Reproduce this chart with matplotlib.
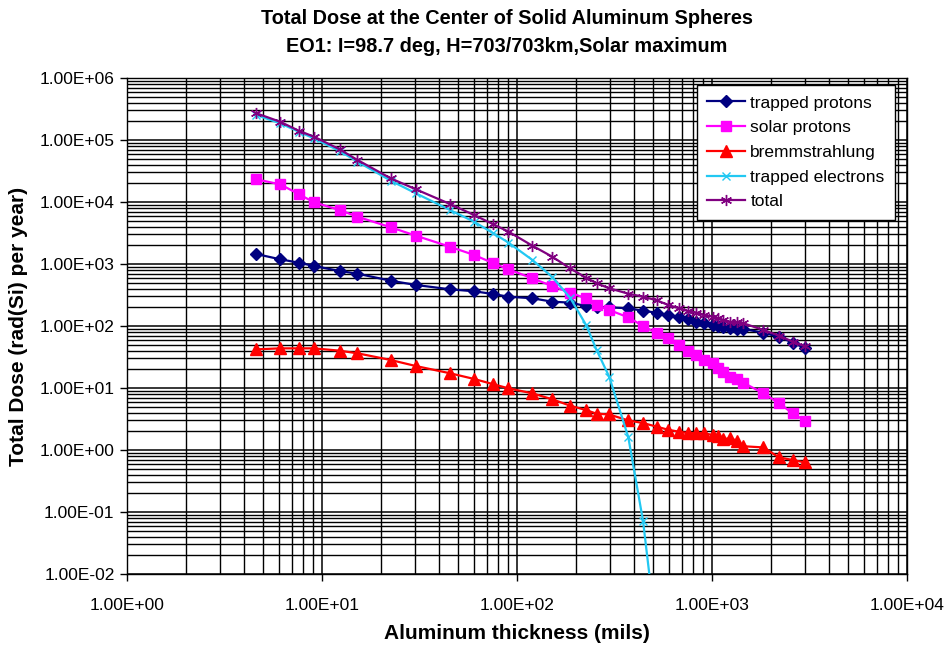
import matplotlib
matplotlib.use("Agg")
import matplotlib.pyplot as plt
from matplotlib.ticker import LogLocator, FuncFormatter, NullFormatter

plt.rcParams['font.family'] = ['Liberation Sans', 'DejaVu Sans']

# Aluminum thickness (mils)
thickness = [4.6, 6.1, 7.6, 9.1, 12.3, 15.2, 22.5, 30.3, 45.3, 60.2, 75.6, 90.2,
             120, 151, 187, 226, 256, 297, 372, 443, 520, 597, 678, 749, 828, 910,
             1006, 1073, 1143, 1237, 1351, 1447, 1834, 2206, 2589, 3000]

trapped_protons = [1449, 1191, 1050, 929, 771, 698, 538, 459, 391, 363, 328, 297,
                   280, 247, 238, 210, 204, 200, 193, 176, 164, 150, 141, 128, 117, 111,
                   104, 100, 98, 94, 89.5, 89.5, 78, 67, 54, 44]

solar_protons = [23200, 19300, 13400, 9880, 7430, 5790, 3910, 2860, 1900, 1400, 1030, 822,
                 588, 442, 344, 280, 218, 181, 138, 100, 76, 63, 49, 40, 34, 28,
                 25, 21, 18.3, 15.2, 13.8, 12.2, 8.2, 5.7, 3.9, 2.97]

bremsstrahlung = [42, 43.6, 43.6, 43.6, 40, 36.3, 28.3, 22.6, 17.3, 14, 11.5, 9.9,
                  8.2, 6.6, 5.2, 4.4, 3.85, 3.74, 3.0, 2.72, 2.38, 2.12, 1.97, 1.88, 1.88, 1.86,
                  1.75, 1.68, 1.49, 1.55, 1.40, 1.15, 1.10, 0.76, 0.69, 0.63]

trapped_electrons = [253000, 186000, 136000, 106000, 66500, 44700, 22100, 13800, 7430, 4810,
                     3130, 2220, 1160, 624, 288, 104, 41, 15.2, 1.62, 0.0716, 0.001]

total = [270000, 197000, 141000, 113000, 70800, 47600, 24100, 16000, 9290, 6170, 4370, 3340,
         1970, 1320, 853, 601, 489, 406, 332, 297, 260, 218, 193, 175, 165, 150,
         141, 133, 125, 117, 114, 111, 86, 70, 56, 47]

fig = plt.figure(figsize=(9.49, 6.46), dpi=100)
ax = fig.add_axes([127 / 949, 72 / 646, 780 / 949, 496 / 646])

ax.plot(thickness, trapped_protons, color='#000080', marker='D', markersize=6,
        lw=1.6, label='trapped protons', zorder=4)
ax.plot(thickness, solar_protons, color='#FF00FF', marker='s', markersize=7.5,
        lw=1.6, label='solar protons', zorder=4)
ax.plot(thickness, bremsstrahlung, color='#FF0000', marker='^', markersize=8,
        lw=1.6, label='bremmstrahlung', zorder=4)
ax.plot(thickness[:len(trapped_electrons)], trapped_electrons, color='#22C8F2', marker='x',
        markersize=6, mew=1.0, lw=1.6, label='trapped electrons', zorder=4)
ax.plot(thickness, total, color='#800080', marker=(6, 2, 0), markersize=8, mew=1.0,
        lw=1.6, label='total', zorder=5)

ax.set_xscale('log')
ax.set_yscale('log')
ax.set_xlim(1, 1e4)
ax.set_ylim(1e-2, 1e6)

ax.xaxis.set_major_locator(LogLocator(base=10, numticks=10))
ax.yaxis.set_major_locator(LogLocator(base=10, numticks=10))
ax.xaxis.set_minor_locator(LogLocator(base=10, subs=range(2, 10), numticks=20))
ax.yaxis.set_minor_locator(LogLocator(base=10, subs=range(2, 10), numticks=20))
fmt = FuncFormatter(lambda v, p: f"{v:.2E}")
ax.xaxis.set_major_formatter(fmt)
ax.yaxis.set_major_formatter(fmt)
ax.xaxis.set_minor_formatter(NullFormatter())
ax.yaxis.set_minor_formatter(NullFormatter())

ax.grid(True, which='major', color='black', lw=1.1)
ax.grid(True, which='minor', color='black', lw=1.0)
ax.set_axisbelow(True)

ax.tick_params(which='major', direction='out', length=5, width=1, labelsize=12.5,
               colors='black', pad=4)
ax.tick_params(axis='x', which='major', pad=12)
ax.tick_params(which='minor', length=0)
for s in ax.spines.values():
    s.set_color('black')
    s.set_linewidth(1)

ax.set_xlabel('Aluminum thickness (mils)', fontsize=15, fontweight='bold', labelpad=8)
ax.set_ylabel('Total Dose (rad(Si) per year)', fontsize=15, fontweight='bold', labelpad=8)

fig.text(507 / 949, 1 - 19 / 646, 'Total Dose at the Center of Solid Aluminum Spheres',
         ha='center', va='center', fontsize=14.3, fontweight='bold')
fig.text(507 / 949, 1 - 47 / 646, 'EO1: I=98.7 deg, H=703/703km,Solar maximum',
         ha='center', va='center', fontsize=14.3, fontweight='bold')

leg = ax.legend(loc='upper right', bbox_to_anchor=((895 - 127) / 780, 1 - 7 / 496),
                borderaxespad=0, fancybox=False, edgecolor='black', framealpha=1,
                fontsize=12.5, labelspacing=0.55, handlelength=2.2, handletextpad=0.3,
                borderpad=0.6)
leg.get_frame().set_linewidth(1)
leg.set_zorder(10)

fig.savefig('out.png', dpi=100, facecolor='white')
